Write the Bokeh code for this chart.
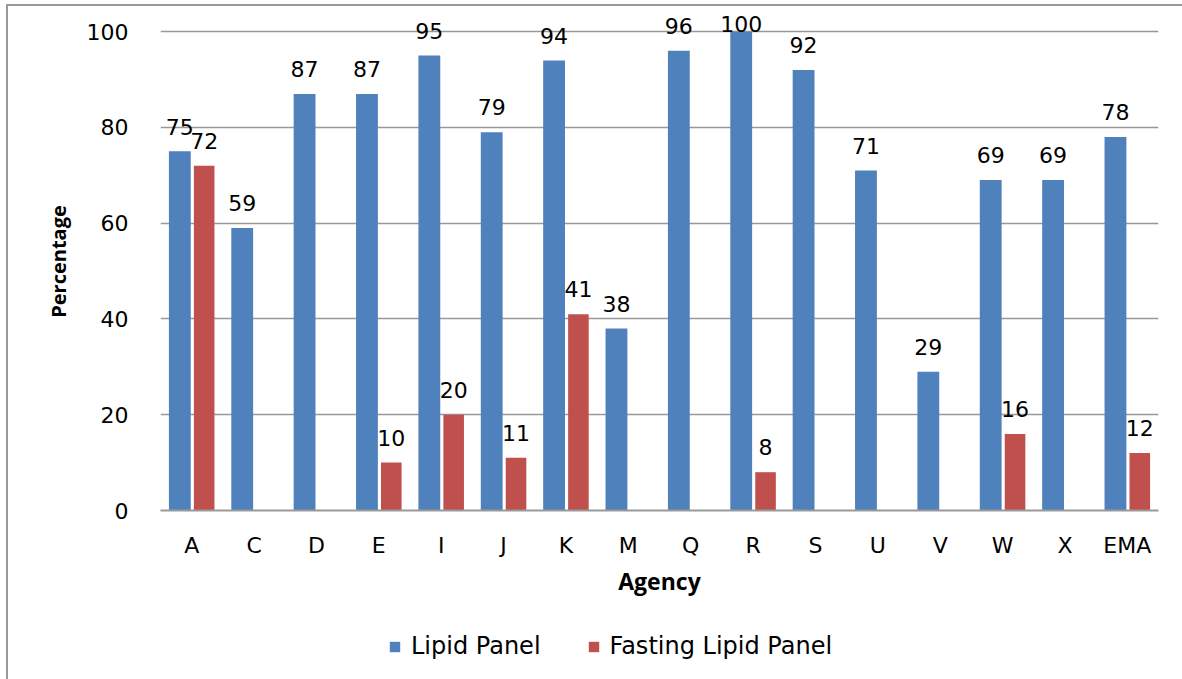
from bokeh.plotting import figure
from bokeh.layouts import column
from bokeh.models import ColumnDataSource, FactorRange, Range1d, FixedTicker, Legend, LegendItem
from bokeh.transform import dodge
from bokeh.core.properties import value
from bokeh.embed import file_html
from bokeh.resources import INLINE

agencies = ["A", "C", "D", "E", "I", "J", "K", "M", "Q", "R", "S", "U", "V", "W", "X", "EMA"]
lipid_panel = [75, 59, 87, 87, 95, 79, 94, 38, 96, 100, 92, 71, 29, 69, 69, 78]
fasting_lipid_panel = [72, None, None, 10, 20, 11, 41, None, None, 8, None, None, None, 16, None, 12]
series_names = ["Lipid Panel", "Fasting Lipid Panel"]
y_ticks = [0, 20, 40, 60, 80, 100]

BLUE = "#4F81BD"
RED = "#C0504D"
LABEL_GAP = 3.5   # data units between bar top and label
LABEL_CAP = 100   # labels never go above the top gridline

nan = float("nan")
fast_vals = [nan if v is None else v for v in fasting_lipid_panel]

src = ColumnDataSource(dict(
    agency=agencies,
    lipid=lipid_panel,
    fast=fast_vals,
    lipid_lab=[str(v) for v in lipid_panel],
    lipid_ly=[min(v + LABEL_GAP, LABEL_CAP) for v in lipid_panel],
    fast_lab=["" if v is None else str(v) for v in fasting_lipid_panel],
    fast_ly=[nan if v is None else min(v + LABEL_GAP, LABEL_CAP) for v in fasting_lipid_panel],
))

p = figure(x_range=FactorRange(*agencies, range_padding=0), y_range=Range1d(0, 104),
           width=1174, height=619, output_backend="svg", toolbar_location=None,
           min_border_left=152, min_border_right=24, min_border_top=6, min_border_bottom=115)

p.outline_line_color = None
p.background_fill_color = "white"
p.border_fill_color = "white"

p.vbar(x=dodge("agency", -0.19, range=p.x_range), top="lipid", width=0.35, source=src,
       fill_color=BLUE, line_color=None)
p.vbar(x=dodge("agency", 0.2, range=p.x_range), top="fast", width=0.33, source=src,
       fill_color=RED, line_color=None)

p.text(x=dodge("agency", -0.19, range=p.x_range), y="lipid_ly", text="lipid_lab", source=src,
       text_align="center", text_baseline="bottom", text_font=value("DejaVu Sans"),
       text_font_size="22px", text_color="black")
p.text(x=dodge("agency", 0.2, range=p.x_range), y="fast_ly", text="fast_lab", source=src,
       text_align="center", text_baseline="bottom", text_font=value("DejaVu Sans"),
       text_font_size="22px", text_color="black")

# axes
p.yaxis.ticker = FixedTicker(ticks=y_ticks)
p.yaxis.axis_line_color = None
p.yaxis.major_tick_line_color = None
p.yaxis.minor_tick_line_color = None
p.yaxis.major_label_text_font = "DejaVu Sans"
p.yaxis.major_label_text_font_size = "22px"
p.yaxis.major_label_text_color = "black"
p.yaxis.major_label_standoff = 26
p.yaxis.axis_label = "Percentage"
p.yaxis.axis_label_text_font = "Open Sans"
p.yaxis.axis_label_text_font_style = "bold"
p.yaxis.axis_label_text_font_size = "20px"
p.yaxis.axis_label_text_color = "black"
p.yaxis.axis_label_standoff = 12

p.xaxis.axis_line_color = "#999999"
p.xaxis.axis_line_width = 2
p.xaxis.major_tick_line_color = None
p.xaxis.minor_tick_line_color = None
p.xaxis.major_label_text_font = "DejaVu Sans"
p.xaxis.major_label_text_font_size = "22px"
p.xaxis.major_label_text_color = "black"
p.xaxis.major_label_standoff = 16
p.xaxis.axis_label = "Agency"
p.xaxis.axis_label_text_font = "Open Sans"
p.xaxis.axis_label_text_font_style = "bold"
p.xaxis.axis_label_text_font_size = "23px"
p.xaxis.axis_label_text_color = "black"
p.xaxis.axis_label_standoff = 4

p.xgrid.grid_line_color = None
p.ygrid.grid_line_color = "#999999"
p.ygrid.grid_line_width = 1.5

# legend strip below the chart (its frame is aligned with the chart's frame)
p2 = figure(width=1174, height=54, output_backend="svg", toolbar_location=None,
            x_range=(0, 1), y_range=(0, 1), min_border=0)
p2.axis.visible = False
p2.grid.grid_line_color = None
p2.outline_line_color = None
# legend proxies, placed well outside the visible ranges
k1 = p2.vbar(x=[-10], bottom=[-10], top=[-9], width=1, fill_color=BLUE, line_color=None)
k2 = p2.vbar(x=[-10], bottom=[-10], top=[-9], width=1, fill_color=RED, line_color=None)
legend = Legend(items=[LegendItem(label=series_names[0], renderers=[k1]),
                       LegendItem(label=series_names[1], renderers=[k2])],
                orientation="horizontal", location=(228, 19),
                label_text_font="DejaVu Sans", label_text_font_size="24px",
                label_text_color="black", glyph_width=13, glyph_height=13,
                label_standoff=10, spacing=46, padding=0, margin=0,
                border_line_color=None, background_fill_alpha=0)
p2.add_layout(legend, "center")

page = column(p, p2, spacing=0,
              styles={"border-left": "2px solid #999999", "border-top": "2px solid #999999",
                      "margin-left": "6px", "margin-top": "4px"})

open("out.html", "w").write(file_html(page, INLINE))
